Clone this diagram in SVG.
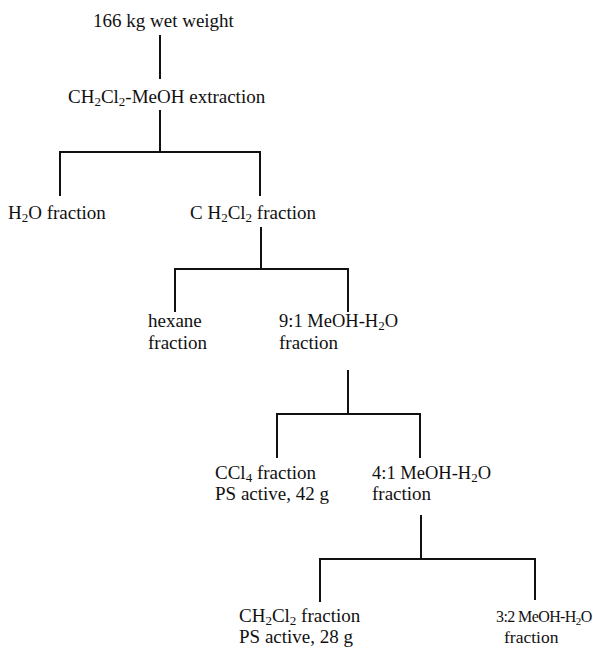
<svg xmlns="http://www.w3.org/2000/svg" width="593" height="649" viewBox="0 0 593 649">
<style>
text{font-family:"Liberation Serif","Times New Roman",serif;font-size:19px;fill:#111}
.s{font-size:13px}
.m{font-size:18.5px}
.c line{stroke:#111;stroke-width:2;fill:none}
</style>
<rect width="593" height="649" fill="#fff"/>
<g class="c" id="connectors">
<line x1="160" y1="35" x2="160" y2="79"/>
<line x1="160" y1="110" x2="160" y2="152"/>
<line x1="59" y1="152" x2="261" y2="152"/>
<line x1="60" y1="152" x2="60" y2="196"/>
<line x1="260" y1="152" x2="260" y2="196"/>
<line x1="261" y1="227" x2="261" y2="269"/>
<line x1="174" y1="269" x2="349" y2="269"/>
<line x1="175" y1="269" x2="175" y2="312"/>
<line x1="348" y1="269" x2="348" y2="312"/>
<line x1="348" y1="370" x2="348" y2="414"/>
<line x1="276" y1="414" x2="421" y2="414"/>
<line x1="277" y1="414" x2="277" y2="458"/>
<line x1="420" y1="414" x2="420" y2="458"/>
<line x1="421" y1="515" x2="421" y2="559"/>
<line x1="319" y1="559" x2="536" y2="559"/>
<line x1="320" y1="559" x2="320" y2="602"/>
<line x1="535" y1="559" x2="535" y2="600"/>
</g>
<g id="n1"><text x="93" y="27">166 kg wet weight</text></g>
<g id="n2"><text x="68" y="103">CH<tspan class="s" dy="3">2</tspan><tspan dy="-3">Cl</tspan><tspan class="s" dy="3">2</tspan><tspan dy="-3">-MeOH extraction</tspan></text></g>
<g id="n3"><text x="8" y="219">H<tspan class="s" dy="3">2</tspan><tspan dy="-3">O fraction</tspan></text></g>
<g id="n4"><text x="190" y="219">C H<tspan class="s" dy="3">2</tspan><tspan dy="-3">Cl</tspan><tspan class="s" dy="3">2</tspan><tspan dy="-3"> fraction</tspan></text></g>
<g id="n5"><text x="148" y="327">hexane</text><text x="148" y="349">fraction</text></g>
<g id="n6"><text class="m" x="279" y="327">9:1 MeOH-H<tspan class="s" dy="3">2</tspan><tspan dy="-3">O</tspan></text><text x="279" y="349">fraction</text></g>
<g id="n7"><text x="215" y="479">CCl<tspan class="s" dy="3">4</tspan><tspan dy="-3"> fraction</tspan></text><text x="215" y="500">PS active, 42 g</text></g>
<g id="n8"><text class="m" x="372" y="479">4:1 MeOH-H<tspan class="s" dy="3">2</tspan><tspan dy="-3">O</tspan></text><text x="372" y="500">fraction</text></g>
<g id="n9"><text x="239" y="622">CH<tspan class="s" dy="3">2</tspan><tspan dy="-3">Cl</tspan><tspan class="s" dy="3">2</tspan><tspan dy="-3"> fraction</tspan></text><text x="239" y="643">PS active, 28 g</text></g>
<g id="n10"><text x="496" y="622" style="font-size:16px;letter-spacing:-0.6px">3:2 MeOH-H<tspan style="font-size:11px" dy="3">2</tspan><tspan dy="-3">O</tspan></text><text x="504" y="643" style="font-size:17.5px">fraction</text></g>
</svg>
